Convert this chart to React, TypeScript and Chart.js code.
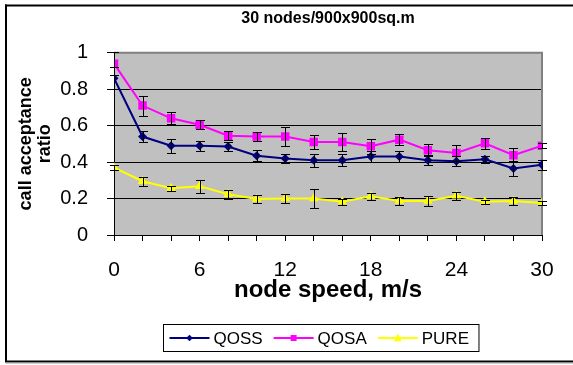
import React, { useEffect, useRef } from "react";
import { Chart, registerables } from "chart.js";

Chart.register(...registerables);

const speeds = [0, 2, 4, 6, 8, 10, 12, 14, 16, 18, 20, 22, 24, 26, 28, 30];
const qoss = [0.86, 0.54, 0.49, 0.49, 0.485, 0.435, 0.42, 0.41, 0.41, 0.43, 0.43, 0.41, 0.405, 0.415, 0.365, 0.385];
const qosa = [0.94, 0.71, 0.64, 0.605, 0.545, 0.54, 0.54, 0.51, 0.51, 0.487, 0.523, 0.465, 0.45, 0.503, 0.438, 0.49];
const pure = [0.37, 0.295, 0.256, 0.268, 0.224, 0.197, 0.2, 0.2, 0.182, 0.213, 0.187, 0.187, 0.215, 0.182, 0.187, 0.176];
const qossErr = [0.06, 0.032, 0.038, 0.027, 0.023, 0.03, 0.027, 0.035, 0.034, 0.03, 0.03, 0.027, 0.027, 0.02, 0.04, 0.027];
const qosaErr = [0.065, 0.055, 0.033, 0.025, 0.025, 0.025, 0.05, 0.039, 0.047, 0.04, 0.03, 0.032, 0.045, 0.03, 0.04, 0.012];
const pureErr = [0.015, 0.025, 0.015, 0.035, 0.025, 0.02, 0.025, 0.05, 0.015, 0.02, 0.022, 0.028, 0.022, 0.01, 0.02, 0.01];
const seriesNames = ["QOSS", "QOSA", "PURE"];
const titleText = "30 nodes/900x900sq.m";
const xTitle = "node speed, m/s";
const yTitle = ["call acceptance", "ratio"];

const FONT = "'Liberation Sans', Arial, sans-serif";

function drawMarker(ctx: CanvasRenderingContext2D, style: string, x: number, y: number, r: number, color: string) {
  ctx.save();
  ctx.fillStyle = color;
  ctx.beginPath();
  if (style === "rectRot") {
    ctx.moveTo(x, y - r);
    ctx.lineTo(x + r, y);
    ctx.lineTo(x, y + r);
    ctx.lineTo(x - r, y);
  } else if (style === "rect") {
    ctx.rect(x - r, y - r, 2 * r, 2 * r);
  } else {
    ctx.moveTo(x, y - r);
    ctx.lineTo(x + r * 0.95, y + r * 0.75);
    ctx.lineTo(x - r * 0.95, y + r * 0.75);
  }
  ctx.closePath();
  ctx.fill();
  ctx.restore();
}

const framePlugin = {
  id: "frame",
  beforeDraw(chart: any) {
    const { ctx, chartArea: a } = chart;
    ctx.save();
    ctx.fillStyle = "#ffffff";
    ctx.fillRect(0, 0, chart.width, chart.height);
    ctx.fillStyle = "#000000";
    ctx.fillRect(5, 4.5, chart.width, 2);
    ctx.fillRect(5, 4.5, 2, 357.5);
    ctx.fillRect(5, 360.5, chart.width, 2);
    ctx.fillStyle = "#9a9a9a";
    ctx.fillRect(6, 362.5, chart.width, 1);
    ctx.fillStyle = "#C0C0C0";
    ctx.fillRect(a.left, a.top, a.right - a.left, a.bottom - a.top);
    ctx.restore();
  },
  beforeDatasetsDraw(chart: any) {
    const { ctx, chartArea: a } = chart;
    ctx.save();
    ctx.strokeStyle = "#808080";
    ctx.lineWidth = 2;
    ctx.beginPath();
    ctx.moveTo(a.left, a.top);
    ctx.lineTo(a.right, a.top);
    ctx.lineTo(a.right, a.bottom);
    ctx.stroke();
    ctx.restore();
  },
};

const errPlugin = {
  id: "errbars",
  afterDatasetsDraw(chart: any) {
    const { ctx } = chart;
    const xs = chart.scales.x;
    const ys = chart.scales.y;
    const errs = [qossErr, qosaErr, pureErr];
    const vals = [qoss, qosa, pure];
    ctx.save();
    ctx.strokeStyle = "#000000";
    ctx.lineWidth = 1;
    vals.forEach((arr, di) => {
      arr.forEach((v, i) => {
        const e = errs[di][i];
        const px = Math.round(xs.getPixelForValue(speeds[i])) + 0.5;
        const y1 = Math.round(ys.getPixelForValue(v + e)) + 0.5;
        const y2 = Math.round(ys.getPixelForValue(v - e)) + 0.5;
        ctx.beginPath();
        ctx.moveTo(px, y1);
        ctx.lineTo(px, y2);
        ctx.moveTo(px - 4.5, y1);
        ctx.lineTo(px + 4.5, y1);
        ctx.moveTo(px - 4.5, y2);
        ctx.lineTo(px + 4.5, y2);
        ctx.stroke();
      });
    });
    ctx.restore();
  },
};

const legendPlugin = {
  id: "boxlegend",
  afterDraw(chart: any) {
    const { ctx } = chart;
    const ds = chart.data.datasets;
    ctx.save();
    ctx.font = `17px ${FONT}`;
    ctx.textBaseline = "middle";
    const lineLen = 40;
    const gap = 4;
    const itemGap = 11;
    const widths = ds.map((d: any) => ctx.measureText(d.label).width);
    const inner = widths.reduce((s: number, w: number) => s + lineLen + gap + w, 0) + itemGap * (ds.length - 1);
    const padL = 6;
    const padR = 10;
    const boxW = inner + padL + padR;
    const cx = 320.5;
    const left = Math.round(cx - boxW / 2) + 0.5;
    const top = 324.5;
    const h = 27;
    ctx.strokeStyle = "#000000";
    ctx.lineWidth = 1;
    ctx.strokeRect(left, top, boxW, h);
    const cy = top + h / 2;
    let x = left + padL;
    const mr = [3.3, 3, 4.2];
    ds.forEach((d: any, i: number) => {
      ctx.strokeStyle = d.borderColor;
      ctx.lineWidth = 2;
      ctx.beginPath();
      ctx.moveTo(x, cy);
      ctx.lineTo(x + lineLen, cy);
      ctx.stroke();
      drawMarker(ctx, d.pointStyle, x + lineLen / 2, cy, mr[i], d.borderColor);
      ctx.fillStyle = "#000000";
      ctx.fillText(d.label, x + lineLen + gap, cy + 1);
      x += lineLen + gap + widths[i] + itemGap;
    });
    ctx.restore();
  },
};

export default function App() {
  const ref = useRef<HTMLCanvasElement | null>(null);
  useEffect(() => {
    if (!ref.current) return;
    const chart = new Chart(ref.current, {
      type: "line",
      data: {
        datasets: [
          {
            label: seriesNames[0],
            data: speeds.map((s, i) => ({ x: s, y: qoss[i] })),
            borderColor: "#000080",
            backgroundColor: "#000080",
            borderWidth: 2,
            pointStyle: "rectRot",
            pointRadius: 4.5,
            pointBorderWidth: 0,
          },
          {
            label: seriesNames[1],
            data: speeds.map((s, i) => ({ x: s, y: qosa[i] })),
            borderColor: "#FF00FF",
            backgroundColor: "#FF00FF",
            borderWidth: 2,
            pointStyle: "rect",
            pointRadius: 6,
            pointBorderWidth: 0,
          },
          {
            label: seriesNames[2],
            data: speeds.map((s, i) => ({ x: s, y: pure[i] })),
            borderColor: "#FFFF00",
            backgroundColor: "#FFFF00",
            borderWidth: 2,
            pointStyle: "triangle",
            pointRadius: 5.5,
            pointBorderWidth: 0,
          },
        ],
      },
      options: {
        responsive: false,
        animation: false,
        devicePixelRatio: 1,
        layout: { padding: { left: 0, right: 31, top: 0, bottom: 50 } },
        plugins: {
          legend: { display: false },
          tooltip: { enabled: false },
          title: {
            display: true,
            text: titleText,
            fullSize: false,
            color: "#000000",
            font: { family: FONT, size: 16, weight: "bold" },
            padding: { top: 9, bottom: 24.5 },
          },
        },
        scales: {
          x: {
            type: "linear",
            min: 0,
            max: 30,
            afterFit: (s: any) => {
              s.height = 80;
            },
            ticks: {
              stepSize: 2,
              autoSkip: false,
              maxRotation: 0,
              color: "#000000",
              padding: 17,
              font: { family: FONT, size: 21 },
              callback: (v: any) => (Number(v) % 6 === 0 ? String(v) : ""),
            },
            grid: {
              drawOnChartArea: false,
              drawTicks: true,
              tickLength: 6,
              color: "#000000",
              tickColor: "#000000",
            },
            border: { display: true, color: "#000000", width: 1 },
            title: {
              display: true,
              text: xTitle,
              color: "#000000",
              font: { family: FONT, size: 24, weight: "bold" },
              padding: { top: 0, bottom: 10.6 },
            },
          },
          y: {
            type: "linear",
            min: 0,
            max: 1,
            afterFit: (s: any) => {
              s.width = 114;
            },
            ticks: {
              stepSize: 0.2,
              color: "#000000",
              padding: 19,
              font: { family: FONT, size: 20 },
              callback: (v: any) => String(Math.round(Number(v) * 10) / 10),
            },
            grid: {
              color: (c: any) => (c.tick && Math.abs(c.tick.value - 1) < 1e-9 ? "#808080" : "#000000"),
              tickColor: "#000000",
              tickLength: 7,
              lineWidth: 1,
            },
            border: { display: true, color: "#000000", width: 1 },
            title: {
              display: true,
              text: yTitle,
              color: "#000000",
              font: { family: FONT, size: 18, weight: "bold", lineHeight: 1.05 },
              padding: { top: 17, bottom: 0 },
            },
          },
        },
      },
      plugins: [framePlugin, errPlugin, legendPlugin],
    });
    return () => chart.destroy();
  }, []);
  return (
    <div style={{ position: "fixed", left: 0, top: 0, width: 573, height: 365, background: "#fff" }}>
      <canvas ref={ref} width={573} height={365} style={{ display: "block", width: 573, height: 365 }} />
    </div>
  );
}
